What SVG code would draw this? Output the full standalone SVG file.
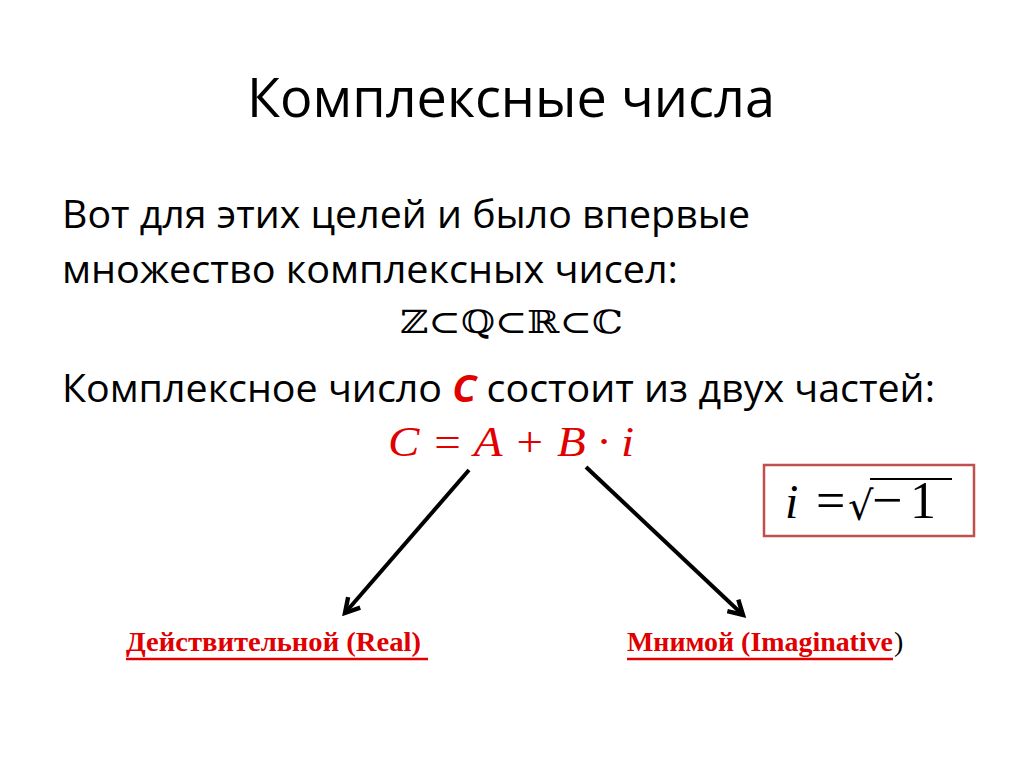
<svg xmlns="http://www.w3.org/2000/svg" width="1024" height="767" viewBox="0 0 1024 767">
<style>
.body{font-family:"Open Sans","Noto Sans","Liberation Sans",sans-serif;font-size:38px;fill:#000}
.math{font-family:"Liberation Serif","DejaVu Serif",serif;font-style:italic}
.lbl{font-family:"Liberation Serif","Times New Roman",serif;font-weight:bold;font-size:28px;fill:#e00000}
.conn{stroke:#000;stroke-width:4;fill:none;marker-end:url(#ah)}
.bx{font-family:"Liberation Serif",serif;fill:#000}
</style>
<defs>
<marker id="ah" viewBox="0 0 10 10" refX="8" refY="5" markerWidth="5" markerHeight="5" orient="auto" markerUnits="strokeWidth">
<polyline points="1,1 8,5 1,9" fill="none" stroke="#000" stroke-width="2.2" stroke-linejoin="miter"/>
</marker>
</defs>
<rect width="1024" height="767" fill="#fff"/>
<g id="title">
<text x="247" y="117" font-family="Open Sans,Noto Sans,sans-serif" font-size="54" textLength="528" lengthAdjust="spacingAndGlyphs">Комплексные числа</text>
</g>
<g id="text1">
<text class="body" x="62" y="228" textLength="688" lengthAdjust="spacingAndGlyphs">Вот для этих целей и было впервые</text>
<text class="body" x="62" y="283" textLength="616" lengthAdjust="spacingAndGlyphs">множество комплексных чисел:</text>
</g>
<g id="sets">
<text x="400" y="333" font-family="DejaVu Serif,DejaVu Sans,serif" font-size="32" textLength="223" lengthAdjust="spacingAndGlyphs">ℤ⊂ℚ⊂ℝ⊂ℂ</text>
</g>
<g id="text2">
<text class="body" x="62" y="402" textLength="873" lengthAdjust="spacingAndGlyphs">Комплексное число <tspan fill="#e00000" font-weight="bold" font-style="italic">C</tspan> состоит из двух частей:</text>
</g>
<g id="formula">
<text class="math" x="388" y="456" font-size="42" fill="#e00000" textLength="246" lengthAdjust="spacingAndGlyphs">C = A + B · i</text>
</g>
<g id="ibox">
<rect x="764" y="465" width="210" height="71" fill="#fff" stroke="#c0504d" stroke-width="2.5"/>
<text class="math" x="785" y="518" font-size="48" fill="#000">i</text>
<text class="bx" x="816" y="518" font-size="52">=</text>
<text x="848" y="520" font-family="DejaVu Serif,serif" font-size="40" fill="#000">√</text>
<line x1="870" y1="479" x2="952" y2="479" stroke="#000" stroke-width="2"/>
<text class="bx" x="872" y="518" font-size="54">−</text>
<text class="bx" x="910" y="518" font-size="52">1</text>
</g>
<g id="connectors">
<line class="conn" x1="469" y1="470" x2="345" y2="613"/>
<line class="conn" x1="586" y1="467" x2="743" y2="615"/>
</g>
<g id="real">
<text class="lbl" x="126" y="651" textLength="295" lengthAdjust="spacingAndGlyphs">Действительной (Real)</text>
<line x1="126" y1="659" x2="428" y2="659" stroke="#e00000" stroke-width="2.5"/>
</g>
<g id="imag">
<text class="lbl" x="627" y="651" textLength="266" lengthAdjust="spacingAndGlyphs">Мнимой (Imaginative</text>
<line x1="627" y1="659" x2="893" y2="659" stroke="#e00000" stroke-width="2.5"/>
<text x="894" y="651" font-family="Liberation Serif,serif" font-size="28" fill="#000">)</text>
</g>
</svg>
